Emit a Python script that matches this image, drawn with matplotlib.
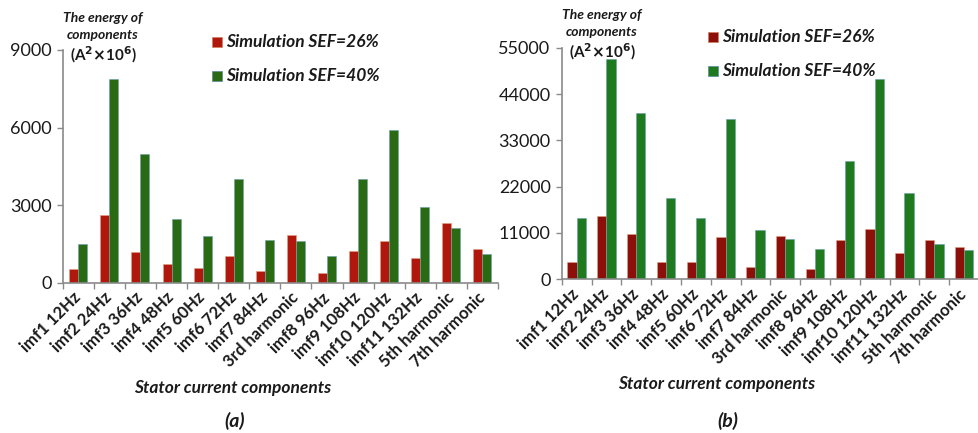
import matplotlib
matplotlib.use("Agg")
import matplotlib.pyplot as plt
import numpy as np

categories = ["imf1 12Hz", "imf2 24Hz", "imf3 36Hz", "imf4 48Hz", "imf5 60Hz", "imf6 72Hz",
              "imf7 84Hz", "3rd harmonic", "imf8 96Hz", "imf9 108Hz", "imf10 120Hz",
              "imf11 132Hz", "5th harmonic", "7th harmonic"]

a_sef26 = [540, 2610, 1190, 730, 550, 1030, 460, 1830, 390, 1220, 1620, 970, 2290, 1300]
a_sef40 = [1510, 7880, 4960, 2450, 1820, 4010, 1650, 1620, 1020, 4010, 5920, 2910, 2110, 1110]
b_sef26 = [4200, 15000, 10700, 4200, 4000, 9950, 2900, 10400, 2450, 9300, 11850, 6250, 9300, 7650]
b_sef40 = [14600, 52200, 39600, 19200, 14600, 38100, 11700, 9500, 7300, 28150, 47600, 20400, 8300, 6900]

a_yticks = [0, 3000, 6000, 9000]
b_yticks = [0, 11000, 22000, 33000, 44000, 55000]
legend_labels = ["Simulation SEF=26%", "Simulation SEF=40%"]

W, H = 979, 433
fig = plt.figure(figsize=(W / 100, H / 100), dpi=100)
FONT = "Lato"
axis_grey = "#8a8a8a"
text_col = "#1a1a1a"


def px(x0, y0, x1, y1):
    return [x0 / W, 1 - y1 / H, (x1 - x0) / W, (y1 - y0) / H]


def panel(rect, d26, d40, yticks, xlim_right, c26, c40, bw):
    ax = fig.add_axes(rect)
    x = np.arange(len(categories))
    ax.bar(x - bw / 2, d26, width=bw, color=c26, edgecolor="#e0a080", linewidth=0.4, clip_on=True)
    ax.bar(x + bw / 2, d40, width=bw, color=c40, edgecolor="#6aa0b0", linewidth=0.4, clip_on=True)
    ax.set_xlim(-0.5, xlim_right)
    ax.set_ylim(yticks[0], yticks[-1])
    ax.set_yticks(yticks)
    ax.set_yticklabels([str(t) for t in yticks], fontsize=13, family=FONT, color=text_col)
    ax.set_xticks(x)
    ax.set_xticklabels(categories, rotation=45, ha="right", va="center", rotation_mode="anchor",
                       fontsize=12, family=FONT, fontweight="bold", color=text_col)
    ax.set_xticks(np.arange(-0.5, len(categories), 1.0), minor=True)
    ax.tick_params(axis="x", which="major", length=0, pad=9)
    ax.tick_params(axis="x", which="minor", length=4, color=axis_grey, width=1, direction="out")
    ax.tick_params(axis="y", length=4, color=axis_grey, width=1, direction="out", pad=4)
    for s in ["top", "right"]:
        ax.spines[s].set_visible(False)
    for s in ["left", "bottom"]:
        ax.spines[s].set_color(axis_grey)
        ax.spines[s].set_linewidth(1.2)
    ax.set_facecolor("none")
    return ax


ax_a = panel(px(62.7, 50, 498, 282.7), a_sef26, a_sef40, a_yticks, 13.5,
             "#b0180e", "#2a6a12", 0.29)
ax_b = panel(px(561.7, 47.7, 979, 279.3), b_sef26, b_sef40, b_yticks, 13.36,
             "#8c0f0a", "#1f7a1f", 0.31)


def ftext(x, y, s, **kw):
    fig.text(x / W, 1 - y / H, s, **kw)


for (ux, uy, lx, sq26y, sq40y, xlab_x, xlab_y, c26, c40) in [
        (103, 18, 212, 42, 76, 233, 388, "#b0180e", "#2a6a12"),
        (602, 15, 708, 37, 71, 717, 384, "#8c0f0a", "#1f7a1f")]:
    ftext(ux, uy, "The energy of", ha="center", va="center", fontsize=10, family=FONT,
          fontweight="bold", style="italic", color=text_col)
    ftext(ux, uy + 17, "components", ha="center", va="center", fontsize=10, family=FONT,
          fontweight="bold", style="italic", color=text_col)
    ftext(ux, uy + 37, r"(A$^{\mathbf{2}}$$\mathbf{\times}$10$^{\mathbf{6}}$)", ha="center", va="center",
          fontsize=11, family=FONT, fontweight="bold", color=text_col)
    for sy, col, lab in [(sq26y, c26, legend_labels[0]), (sq40y, c40, legend_labels[1])]:
        fig.patches.append(plt.Rectangle((lx / W, 1 - (sy + 5) / H), 10 / W, 10 / H,
                                         transform=fig.transFigure, facecolor=col,
                                         edgecolor="#5a8aa0" if col == c40 else "#d08060",
                                         linewidth=0.5))
        ftext(lx + 14, sy, lab, ha="left", va="center", fontsize=12.5, family=FONT,
              fontweight="bold", style="italic", color=text_col)
    ftext(xlab_x, xlab_y, "Stator current components", ha="center", va="center", fontsize=12.5,
          family=FONT, fontweight="bold", style="italic", color=text_col)

ftext(235, 421, "(a)", ha="center", va="center", fontsize=14, family=FONT,
      fontweight="bold", style="italic", color=text_col)
ftext(728, 421, "(b)", ha="center", va="center", fontsize=14, family=FONT,
      fontweight="bold", style="italic", color=text_col)

fig.savefig("out.png", dpi=100, facecolor="white")
